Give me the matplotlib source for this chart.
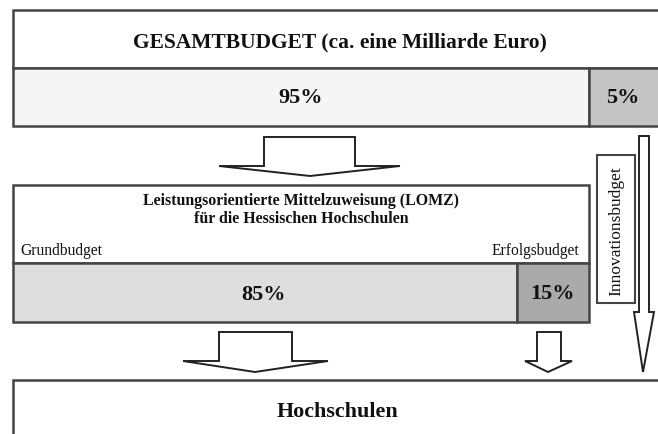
import matplotlib
matplotlib.use("Agg")
import matplotlib.pyplot as plt
from matplotlib.patches import Rectangle, Polygon

# ---- content ----
title_total = "GESAMTBUDGET (ca. eine Milliarde Euro)"
total_split_labels = ["95%", "5%"]
lomz_title = ["Leistungsorientierte Mittelzuweisung (LOMZ)", "für die Hessischen Hochschulen"]
lomz_part_names = ["Grundbudget", "Erfolgsbudget"]
lomz_split_labels = ["85%", "15%"]
innovation_label = "Innovationsbudget"
target_label = "Hochschulen"

W, H = 658, 434
fig = plt.figure(figsize=(W / 100, H / 100), dpi=100)
ax = fig.add_axes([0, 0, 1, 1])
ax.set_xlim(0, W)
ax.set_ylim(H, 0)
ax.axis("off")

EDGE = "#444444"
FONT = "Liberation Serif"
LW_BOX = 1.8
LW_ARROW = 1.4


def box(x0, y0, x1, y1, fc="white", lw=LW_BOX):
    ax.add_patch(Rectangle((x0, y0), x1 - x0, y1 - y0, facecolor=fc,
                           edgecolor=EDGE, linewidth=lw, zorder=2))


def arrow(sx0, sx1, top, shoulder, wx0, wx1, tip_x, tip_y):
    pts = [(sx0, top), (sx1, top), (sx1, shoulder), (wx1, shoulder),
           (tip_x, tip_y), (wx0, shoulder), (sx0, shoulder)]
    ax.add_patch(Polygon(pts, closed=True, facecolor="white",
                         edgecolor="#222222", linewidth=LW_ARROW, zorder=3))


# top box
box(13, 10, 670, 68, fc="white")
box(13, 68, 589, 126, fc="#f5f5f5")
box(589, 68, 670, 126, fc="#c4c4c4")
ax.text(340, 42, title_total, ha="center", va="center", fontsize=15.5,
        fontweight="bold", family=FONT, color="#111111", zorder=4)
ax.text(301, 98, total_split_labels[0], ha="center", va="center", fontsize=16,
        fontweight="bold", family=FONT, color="#111111", zorder=4)
ax.text(623, 98, total_split_labels[1], ha="center", va="center", fontsize=16,
        fontweight="bold", family=FONT, color="#111111", zorder=4)

# arrow top -> LOMZ
arrow(264, 355, 137, 166, 219, 400, 310, 176)

# LOMZ box
box(13, 185, 589, 263, fc="white")
box(13, 263, 517, 322, fc="#dedede")
box(517, 263, 589, 322, fc="#aaaaaa")
ax.text(301, 201, lomz_title[0], ha="center", va="center", fontsize=11.4,
        fontweight="bold", family=FONT, color="#111111", zorder=4)
ax.text(301, 219, lomz_title[1], ha="center", va="center", fontsize=11.4,
        fontweight="bold", family=FONT, color="#111111", zorder=4)
ax.text(20, 251, lomz_part_names[0], ha="left", va="center", fontsize=11.2,
        family=FONT, color="#111111", zorder=4)
ax.text(579, 251, lomz_part_names[1], ha="right", va="center", fontsize=11.2,
        family=FONT, color="#111111", zorder=4)
ax.text(264, 295, lomz_split_labels[0], ha="center", va="center", fontsize=16,
        fontweight="bold", family=FONT, color="#111111", zorder=4)
ax.text(553, 294, lomz_split_labels[1], ha="center", va="center", fontsize=16,
        fontweight="bold", family=FONT, color="#111111", zorder=4)

# innovation label box + long arrow
box(597, 155, 635, 303, fc="white", lw=1.5)
ax.text(616, 231, innovation_label, ha="center", va="center", fontsize=12.5,
        rotation=90, family=FONT, color="#111111", zorder=4)
arrow(639, 649, 136, 312, 634, 654, 643, 372)

# arrows LOMZ -> Hochschulen
arrow(219, 292, 332, 361, 183, 328, 255, 372)
arrow(537, 561, 332, 361, 525, 572, 548, 372)

# bottom box
box(13, 380, 670, 470, fc="white")
ax.text(337, 412, target_label, ha="center", va="center", fontsize=15.8,
        fontweight="bold", family=FONT, color="#111111", zorder=4)

fig.savefig("out.png", dpi=100)
